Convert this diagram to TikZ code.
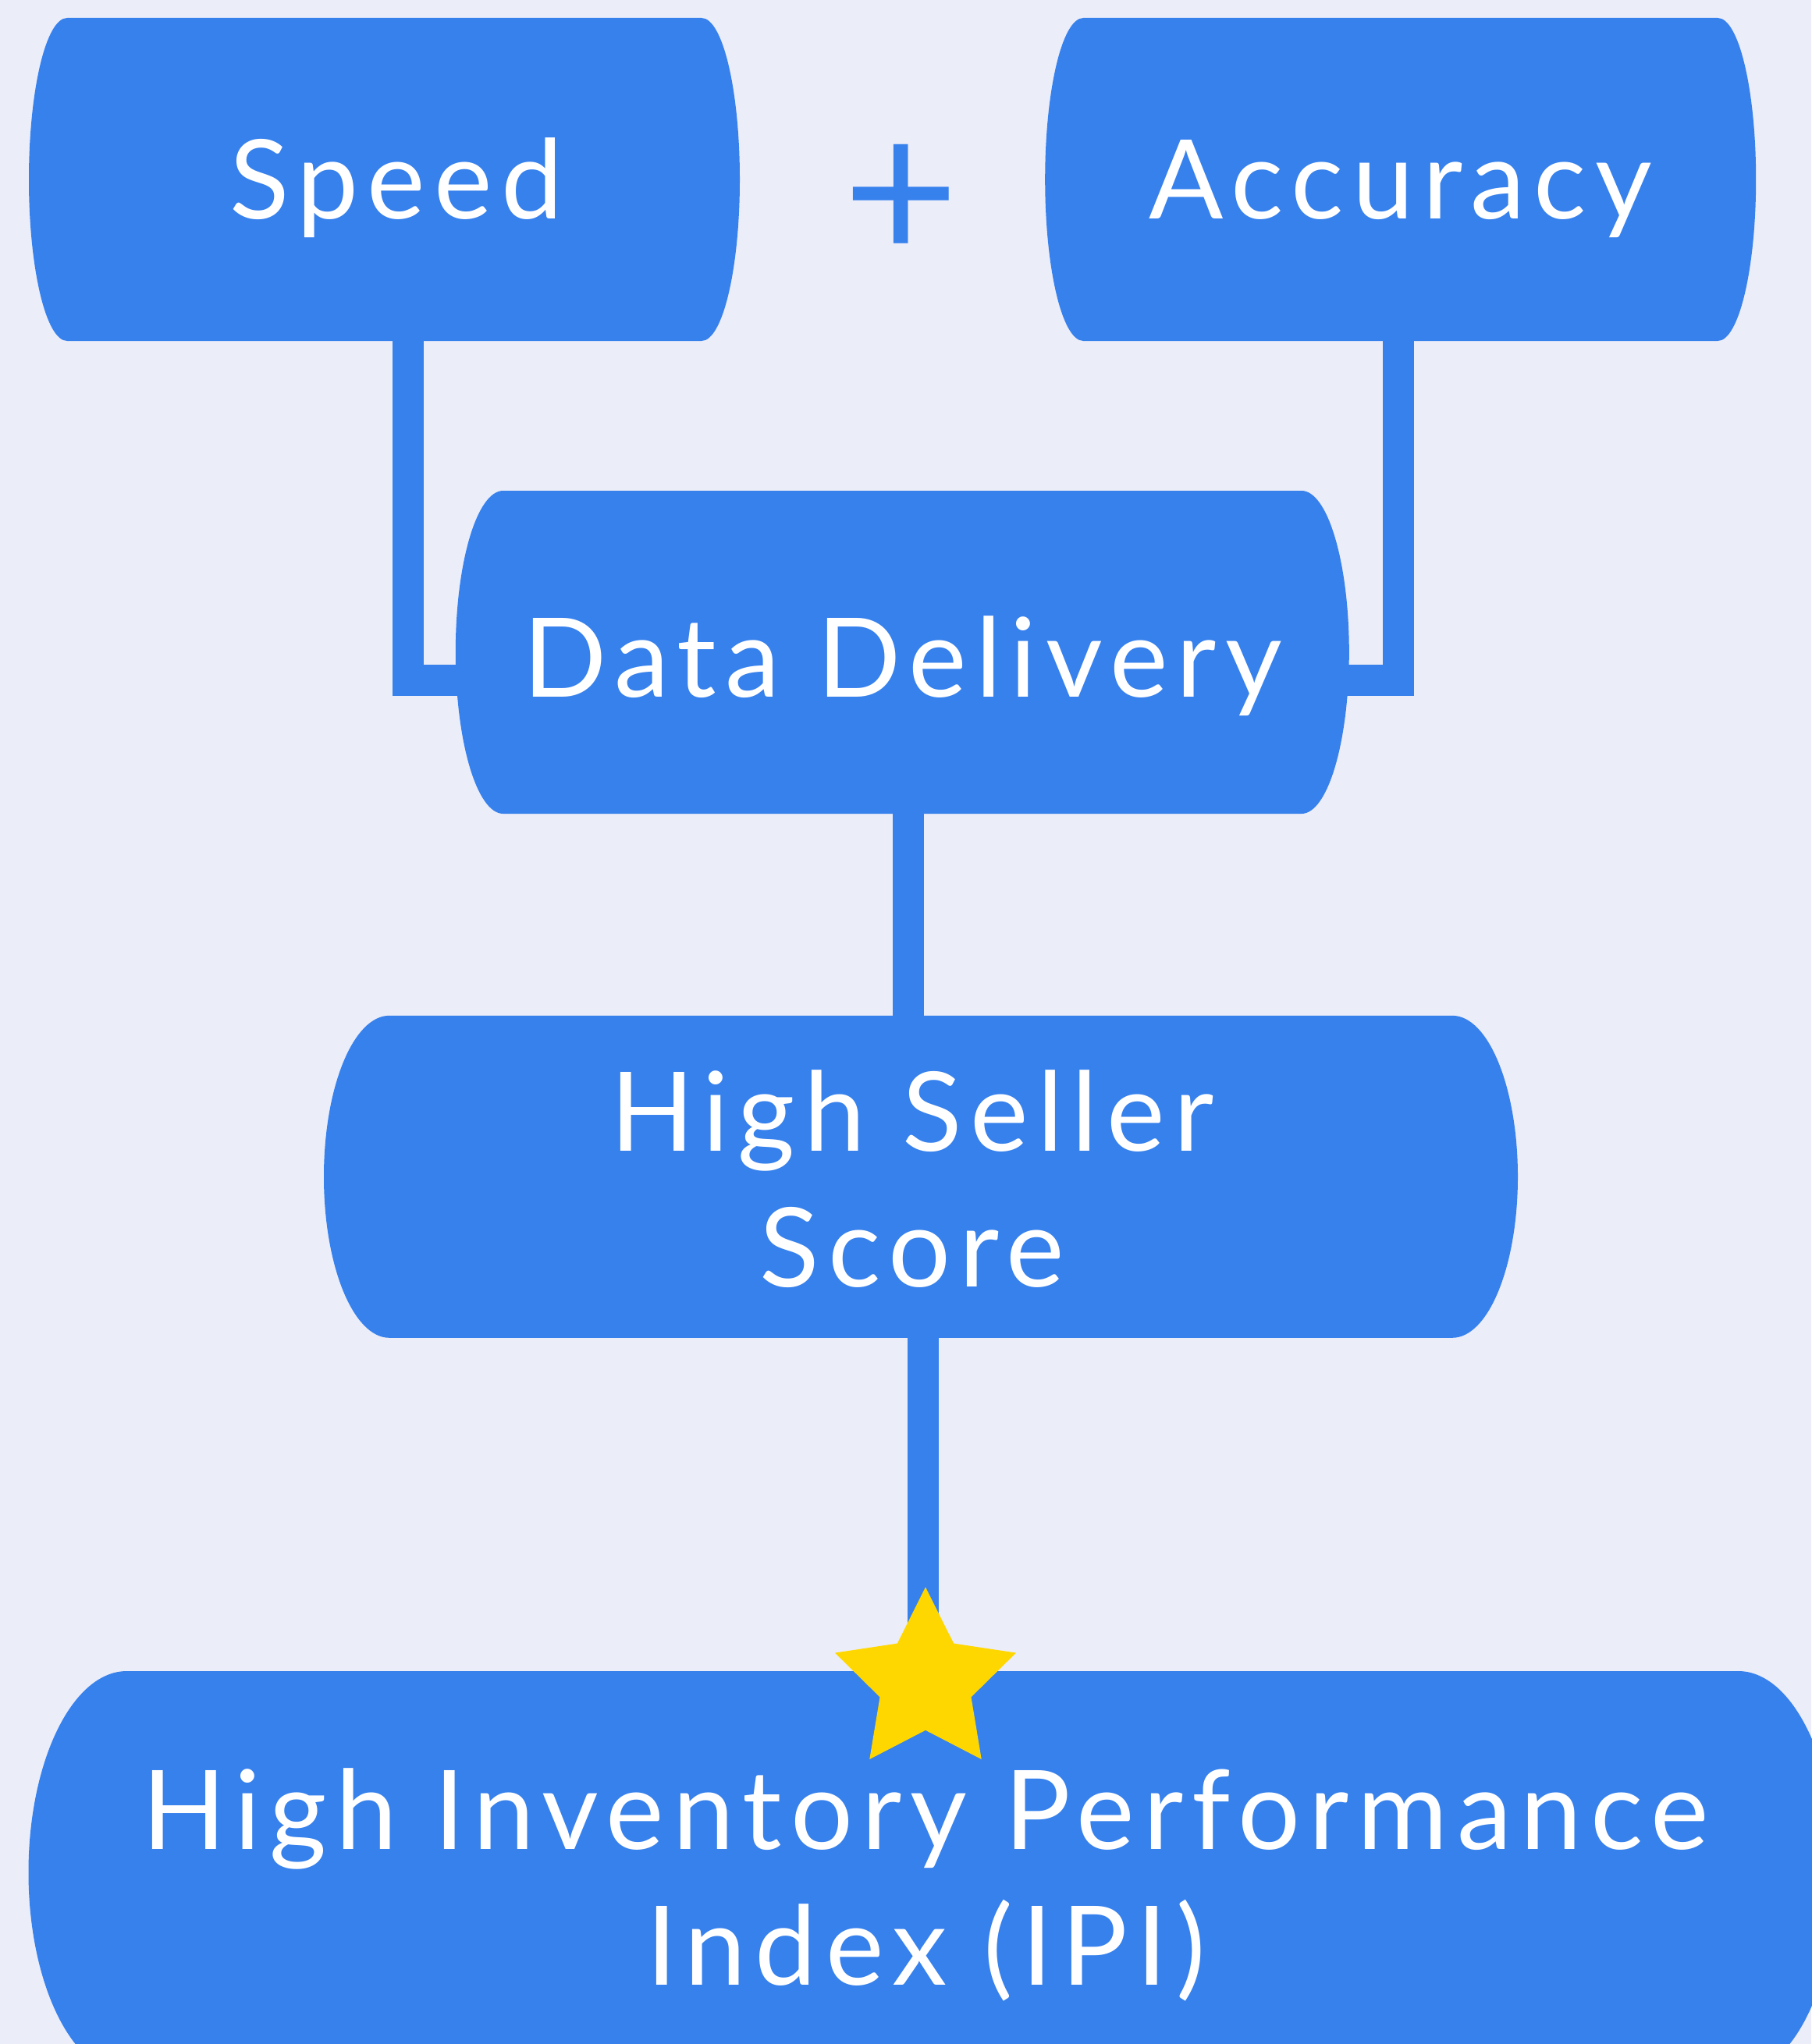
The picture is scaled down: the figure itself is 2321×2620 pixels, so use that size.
\documentclass[tikz,border=0pt]{standalone}
\usepackage{fontspec}
\newfontfamily\labelfont{Lato}[LetterSpace=8]
\newfontfamily\signfont{Lato}
\usetikzlibrary{calc}

\definecolor{pagebg}{HTML}{EBEDF8}
\definecolor{boxblue}{HTML}{3781ED}
\definecolor{stargold}{HTML}{FFD700}

\pgfdeclarelayer{page}
\pgfdeclarelayer{links}
\pgfdeclarelayer{shapes}
\pgfsetlayers{page,links,shapes,main}

\tikzset{
  capsule/.style={rectangle, inner sep=0pt, outer sep=0pt, text=white,
    font=\labelfont\fontsize{141}{174}\selectfont},
  link/.style={draw=boxblue, line width=40pt, line join=miter},
}

% text placed with its first baseline at a given offset from the node centre
\newcommand\boxtext[3]{\raisebox{#2}[0pt][0pt]{\hspace*{#1}#3}}

% straight top and bottom, half-ellipse ends of horizontal radius #2
\newcommand\capsulefill[2]{%
  \fill[boxblue] let \p1=(#1.north west), \p2=(#1.south east),
    \n1={0.5*(\y1-\y2)} in
    ([xshift=#2pt]#1.north west)
      arc[start angle=90, end angle=270, x radius=#2pt, y radius=\n1]
    -- ([xshift=-#2pt]#1.south east)
      arc[start angle=-90, end angle=90, x radius=#2pt, y radius=\n1]
    -- cycle;}

\begin{document}
\begin{tikzpicture}[x=1pt,y=-1pt]
  \begin{pgfonlayer}{page}
    \fill[pagebg] (0,0) rectangle (2321,2620);
  \end{pgfonlayer}
  \useasboundingbox (0,0) rectangle (2321,2620);

  % boxes
  \node[capsule, minimum width=911pt, minimum height=414pt] (speed) at (492.5,230)
    {\boxtext{30pt}{-50.7pt}{Speed}};
  \node[capsule, minimum width=911pt, minimum height=414pt] (accuracy) at (1794.7,230)
    {\boxtext{0pt}{-50.7pt}{Accuracy}};
  \node[capsule, minimum width=1145pt, minimum height=414pt] (dd) at (1156.3,836)
    {\boxtext{1pt}{-57pt}{Data Delivery}};
  \node[capsule, minimum width=1530pt, minimum height=413pt] (hss) at (1180,1508.3)
    {\boxtext{-22pt}{32.8pt}{\begin{tabular}[t]{@{}c@{}}High Seller\\Score\end{tabular}}};
  \node[capsule, minimum width=2317pt, minimum height=516pt] (ipi) at (1195,2400)
    {\boxtext{-17pt}{30pt}{\begin{tabular}[t]{@{}c@{}}High Inventory Performance\\Index (IPI)\end{tabular}}};

  % plus sign between the two top boxes
  \node[text=boxblue, inner sep=0pt, font=\signfont\fontsize{256}{256}\selectfont]
    (plus) at (1155,249) {\raisebox{-85pt}[0pt][0pt]{+}};

  \begin{pgfonlayer}{shapes}
    \capsulefill{speed}{49}
    \capsulefill{accuracy}{49}
    \capsulefill{dd}{61}
    \capsulefill{hss}{84}
    \capsulefill{ipi}{126}
  \end{pgfonlayer}

  % connectors
  \coordinate (lbend) at (523.3,872);
  \coordinate (rbend) at (1791.5,872);
  \coordinate (midx) at (1164.3,0);
  \coordinate (lowx) at (1183,0);
  \begin{pgfonlayer}{links}
    \draw[link, shorten >=-10pt] (speed.south -| lbend) -- (lbend) -- (dd.west |- lbend);
    \draw[link, shorten >=-10pt] (accuracy.south -| rbend) -- (rbend) -- (dd.east |- rbend);
    \draw[link] (dd.south -| midx) -- (hss.north -| midx);
    \draw[link] (hss.south -| lowx) -- (ipi.north -| lowx);
  \end{pgfonlayer}

  % star on the top edge of the last box
  \fill[stargold, shift={(1186,2156.3)}]
    (-90:122) -- (-54:61.5) -- (-18:122) -- (18:61.5) -- (54:122)
    -- (90:61.5) -- (126:122) -- (162:61.5) -- (198:122) -- (234:61.5) -- cycle;
\end{tikzpicture}
\end{document}
